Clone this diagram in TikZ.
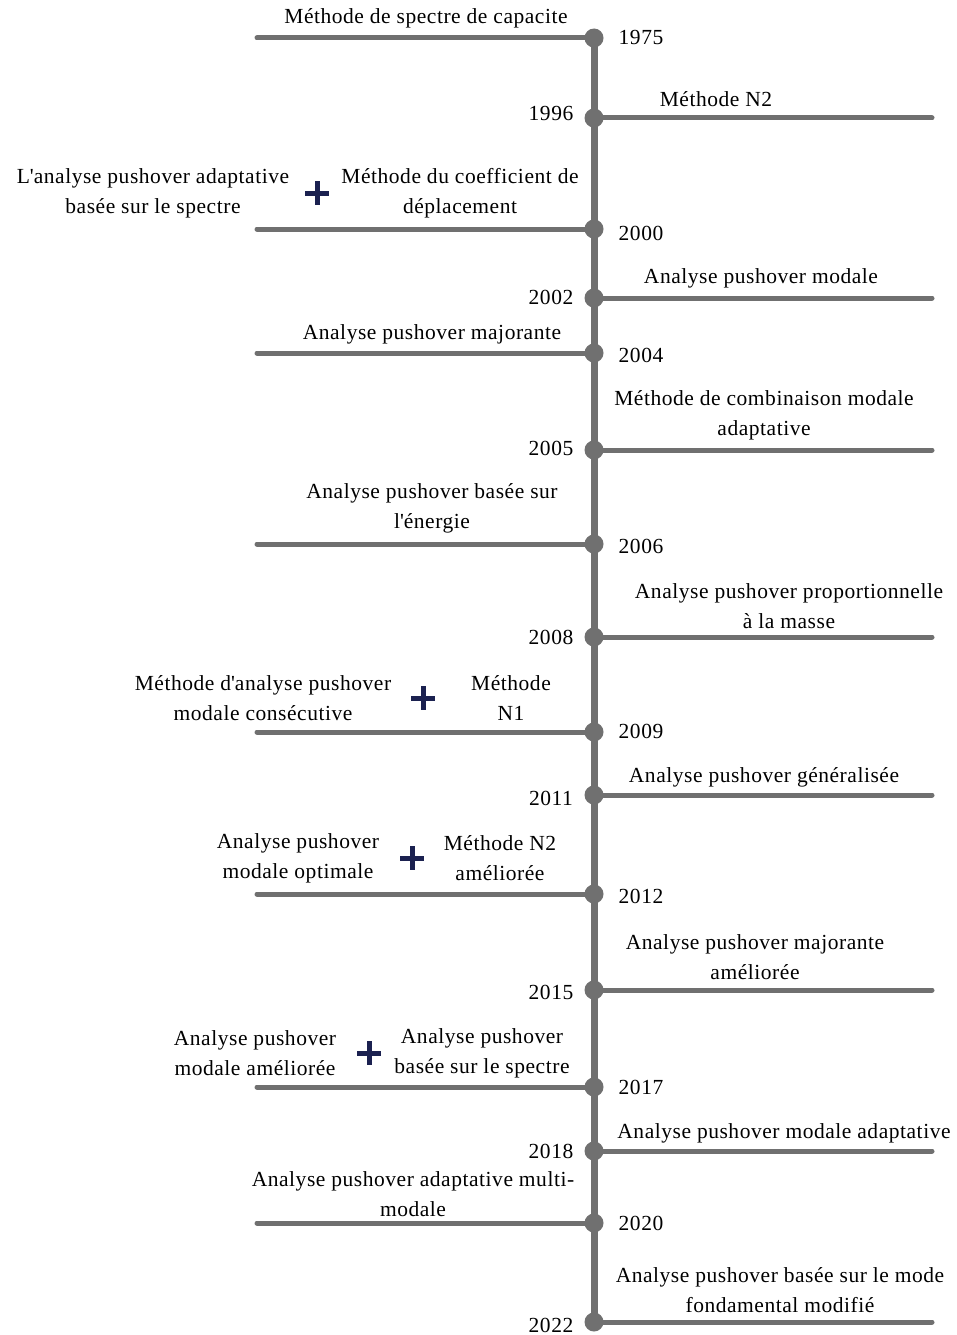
\documentclass[tikz,border=0pt]{standalone}
\usepackage{fontspec}
\setmainfont{Liberation Serif}[LetterSpace=2.5]
\definecolor{tlgray}{HTML}{707070}
\definecolor{plusnavy}{HTML}{1B2150}
\tikzset{
  dot/.style={circle,fill=tlgray,minimum size=19pt,inner sep=0pt},
  branch/.style={tlgray,line width=5pt,line cap=round},
  spine/.style={tlgray,line width=7pt},
  ev/.style={align=center,font=\fontsize{21.5}{30}\selectfont,inner sep=0pt},
  yr/.style={font=\fontsize{21.5}{24}\selectfont,inner sep=0pt},
  plus/.style={minimum size=24pt,inner sep=0pt,
    path picture={\draw[plusnavy,line width=5pt]
      (path picture bounding box.west) -- (path picture bounding box.east)
      (path picture bounding box.north) -- (path picture bounding box.south);}}
}
\begin{document}
\begin{tikzpicture}[x=1pt,y=-1pt]
\useasboundingbox (0,0) rectangle (957,1335);
% years on the spine
\node[dot] (d1975) at (594,38) {};
\node[dot] (d1996) at (594,118) {};
\node[dot] (d2000) at (594,229) {};
\node[dot] (d2002) at (594,298) {};
\node[dot] (d2004) at (594,353) {};
\node[dot] (d2005) at (594,450) {};
\node[dot] (d2006) at (594,544) {};
\node[dot] (d2008) at (594,637) {};
\node[dot] (d2009) at (594,732) {};
\node[dot] (d2011) at (594,795) {};
\node[dot] (d2012) at (594,894) {};
\node[dot] (d2015) at (594,990) {};
\node[dot] (d2017) at (594,1087) {};
\node[dot] (d2018) at (594,1151) {};
\node[dot] (d2020) at (594,1223) {};
\node[dot] (d2022) at (594,1322) {};
\draw[spine] (d1975.center) -- (d2022.center);
% branch ends
\coordinate (e1975) at (257,38);
\coordinate (e1996) at (932,118);
\coordinate (e2000) at (257,229);
\coordinate (e2002) at (932,298);
\coordinate (e2004) at (257,353);
\coordinate (e2005) at (932,450);
\coordinate (e2006) at (257,544);
\coordinate (e2008) at (932,637);
\coordinate (e2009) at (257,732);
\coordinate (e2011) at (932,795);
\coordinate (e2012) at (257,894);
\coordinate (e2015) at (932,990);
\coordinate (e2017) at (257,1087);
\coordinate (e2018) at (932,1151);
\coordinate (e2020) at (257,1223);
\coordinate (e2022) at (932,1322);
\foreach \y in {1975,1996,2000,2002,2004,2005,2006,2008,2009,2011,2012,2015,2017,2018,2020,2022}
  \draw[branch] (d\y.center) -- (e\y);
% year labels
\node[yr] (y1975) at (641,37) {1975};
\node[yr] (y1996) at (551,113) {1996};
\node[yr] (y2000) at (641,233) {2000};
\node[yr] (y2002) at (551,297) {2002};
\node[yr] (y2004) at (641,355) {2004};
\node[yr] (y2005) at (551,448) {2005};
\node[yr] (y2006) at (641,546) {2006};
\node[yr] (y2008) at (551,637) {2008};
\node[yr] (y2009) at (641,731) {2009};
\node[yr] (y2011) at (551,798) {2011};
\node[yr] (y2012) at (641,896) {2012};
\node[yr] (y2015) at (551,992) {2015};
\node[yr] (y2017) at (641,1087) {2017};
\node[yr] (y2018) at (551,1151) {2018};
\node[yr] (y2020) at (641,1223) {2020};
\node[yr] (y2022) at (551,1325) {2022};
% methods
\node[ev] (m1975) at (426,18) {Méthode de spectre de capacite};
\node[ev] (m1996) at (716,99) {Méthode N2};
\node[ev] (m2000a) at (153,193) {L\textquotesingle analyse pushover adaptative\\basée sur le spectre};
\node[plus] (p2000) at (317,193) {};
\node[ev] (m2000b) at (460,193) {Méthode du coefficient de\\déplacement};
\node[ev] (m2002) at (761,278) {Analyse pushover modale};
\node[ev] (m2004) at (432,334) {Analyse pushover majorante};
\node[ev] (m2005) at (764,415) {Méthode de combinaison modale\\adaptative};
\node[ev] (m2006) at (432,508) {Analyse pushover basée sur\\l\textquotesingle énergie};
\node[ev] (m2008) at (789,606) {Analyse pushover proportionnelle\\à la masse};
\node[ev] (m2009a) at (263,698) {Méthode d\textquotesingle analyse pushover\\modale consécutive};
\node[plus] (p2009) at (423,698) {};
\node[ev] (m2009b) at (511,698) {Méthode\\N1};
\node[ev] (m2011) at (764,777) {Analyse pushover généralisée};
\node[ev] (m2012a) at (298,858) {Analyse pushover\\modale optimale};
\node[plus] (p2012) at (412,858) {};
\node[ev] (m2012b) at (500,858) {Méthode N2\\améliorée};
\node[ev] (m2015) at (755,957) {Analyse pushover majorante\\améliorée};
\node[ev] (m2017a) at (255,1053) {Analyse pushover\\modale améliorée};
\node[plus] (p2017) at (369,1053) {};
\node[ev] (m2017b) at (482,1053) {Analyse pushover\\basée sur le spectre};
\node[ev] (m2018) at (784,1133) {Analyse pushover modale adaptative};
\node[ev] (m2020) at (413,1194) {Analyse pushover adaptative multi-\\modale};
\node[ev] (m2022) at (780,1290) {Analyse pushover basée sur le mode\\fondamental modifié};
\end{tikzpicture}
\end{document}
